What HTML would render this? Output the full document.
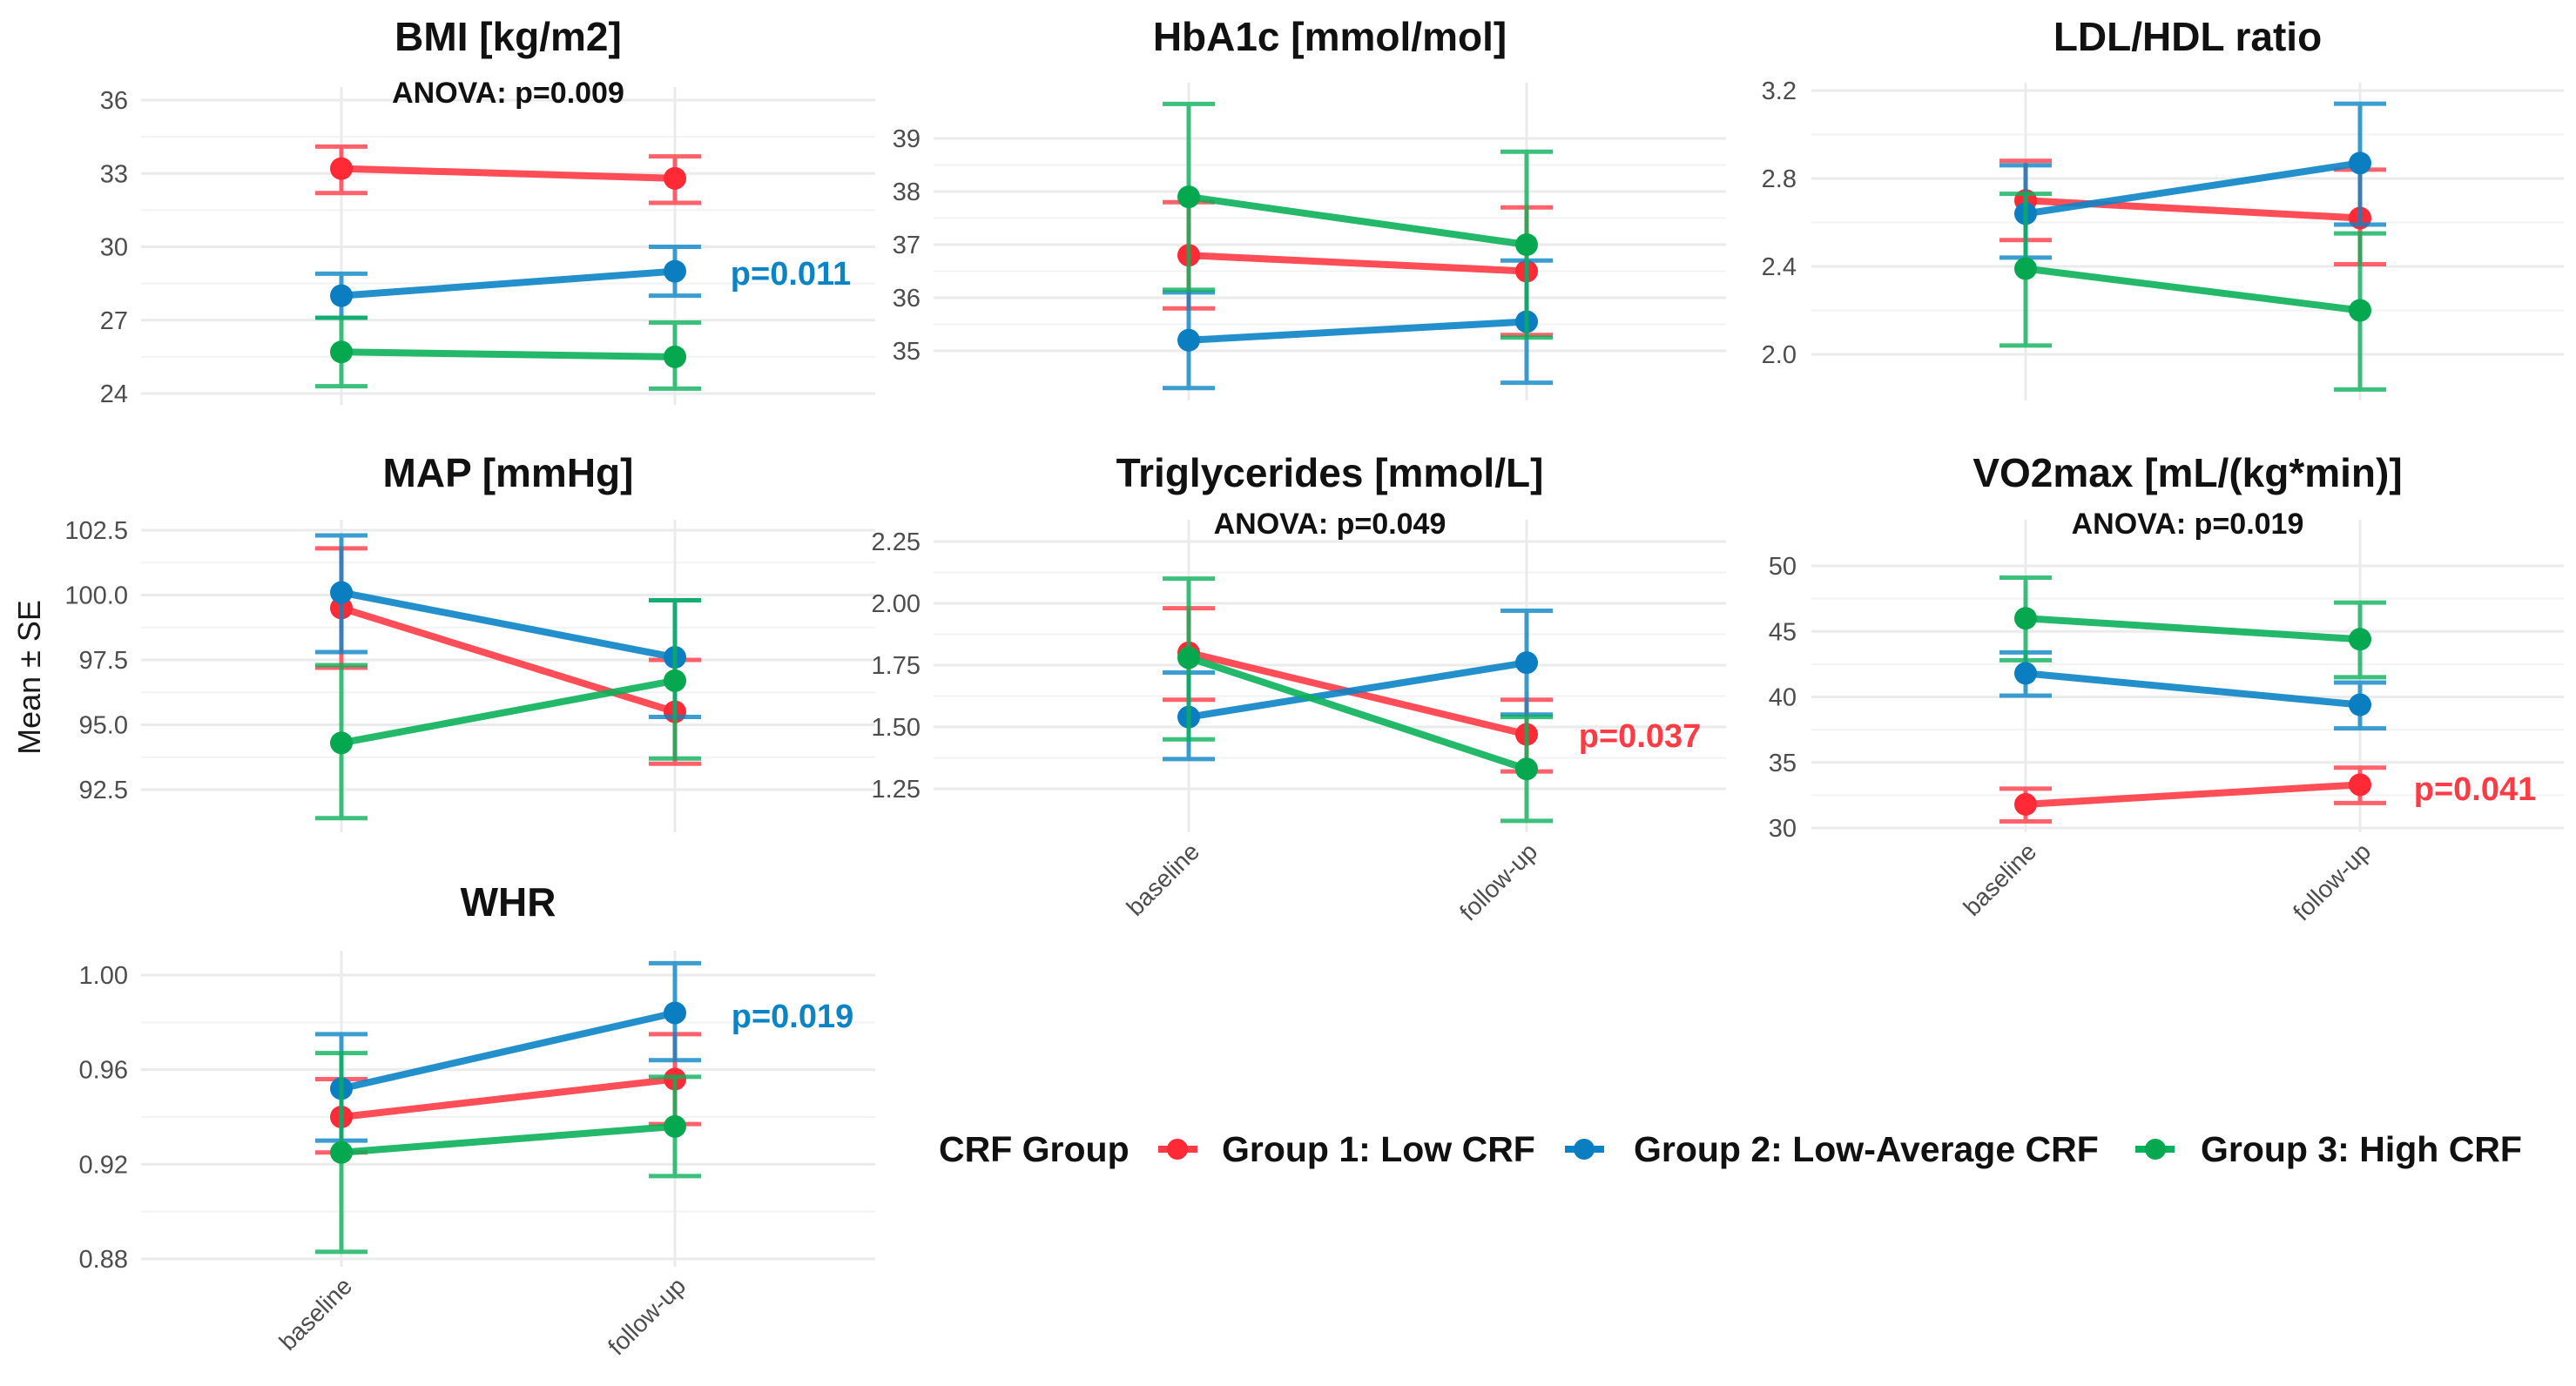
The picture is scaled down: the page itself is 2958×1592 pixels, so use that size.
<!DOCTYPE html>
<html><head><meta charset="utf-8"><style>
html,body{margin:0;padding:0;background:#fff;}
svg{display:block;font-family:"Liberation Sans",Arial,sans-serif;}
</style></head><body>
<svg id="chart" width="2958" height="1592" viewBox="0 0 2958 1592" xmlns="http://www.w3.org/2000/svg">
<rect width="2958" height="1592" fill="#fff"/>
<g id="grid"></g><g id="marks"></g><g id="labels"></g>
<text x="0" y="0" transform="translate(46,778) rotate(-90)" text-anchor="middle" font-size="36" fill="#1a1a1a">Mean ± SE</text>
<g font-weight="bold" font-size="41" fill="#111">
<text x="1078" y="1334">CRF Group</text>
<g><line x1="1330" y1="1320" x2="1375" y2="1320" stroke="#ff3b45" stroke-width="8"/><circle cx="1352" cy="1320" r="12" fill="#ff2a35"/><text x="1403" y="1334">Group 1: Low CRF</text></g>
<g><line x1="1797" y1="1320" x2="1842" y2="1320" stroke="#0b84c6" stroke-width="8"/><circle cx="1819" cy="1320" r="12" fill="#0a7ec0"/><text x="1876" y="1334">Group 2: Low-Average CRF</text></g>
<g><line x1="2452" y1="1320" x2="2497" y2="1320" stroke="#0bb05a" stroke-width="8"/><circle cx="2475" cy="1320" r="12" fill="#05a84f"/><text x="2527" y="1334">Group 3: High CRF</text></g>
</g>
</svg>
<script>
const categories = ["baseline","follow-up"];
// BMI
const BMI_G1=[33.2,32.8], BMI_G1_LO=[32.2,31.8], BMI_G1_HI=[34.1,33.7];
const BMI_G2=[28.0,29.0], BMI_G2_LO=[27.1,28.0], BMI_G2_HI=[28.9,30.0];
const BMI_G3=[25.7,25.5], BMI_G3_LO=[24.3,24.2], BMI_G3_HI=[27.1,26.9];
const BMI_TICKS=[24,27,30,33,36];
// HbA1c
const HBA_G1=[36.8,36.5], HBA_G1_LO=[35.8,35.3], HBA_G1_HI=[37.8,37.7];
const HBA_G2=[35.2,35.55], HBA_G2_LO=[34.3,34.4], HBA_G2_HI=[36.1,36.7];
const HBA_G3=[37.9,37.0], HBA_G3_LO=[36.15,35.25], HBA_G3_HI=[39.65,38.75];
const HBA_TICKS=[35,36,37,38,39];
// LDL/HDL
const LDL_G1=[2.70,2.62], LDL_G1_LO=[2.52,2.41], LDL_G1_HI=[2.88,2.84];
const LDL_G2=[2.64,2.87], LDL_G2_LO=[2.44,2.59], LDL_G2_HI=[2.86,3.14];
const LDL_G3=[2.39,2.20], LDL_G3_LO=[2.04,1.84], LDL_G3_HI=[2.73,2.55];
const LDL_TICKS=[2.0,2.4,2.8,3.2];
// MAP
const MAP_G1=[99.5,95.5], MAP_G1_LO=[97.2,93.5], MAP_G1_HI=[101.8,97.5];
const MAP_G2=[100.1,97.6], MAP_G2_LO=[97.8,95.3], MAP_G2_HI=[102.3,99.8];
const MAP_G3=[94.3,96.7], MAP_G3_LO=[91.4,93.7], MAP_G3_HI=[97.3,99.8];
const MAP_TICKS=[92.5,95.0,97.5,100.0,102.5];
// Triglycerides
const TRI_G1=[1.80,1.47], TRI_G1_LO=[1.61,1.32], TRI_G1_HI=[1.98,1.61];
const TRI_G2=[1.54,1.76], TRI_G2_LO=[1.37,1.55], TRI_G2_HI=[1.72,1.97];
const TRI_G3=[1.78,1.33], TRI_G3_LO=[1.45,1.12], TRI_G3_HI=[2.10,1.54];
const TRI_TICKS=[1.25,1.50,1.75,2.00,2.25];
// VO2max
const VO2_G1=[31.8,33.3], VO2_G1_LO=[30.5,31.9], VO2_G1_HI=[33.0,34.6];
const VO2_G2=[41.8,39.4], VO2_G2_LO=[40.1,37.6], VO2_G2_HI=[43.4,41.1];
const VO2_G3=[46.0,44.4], VO2_G3_LO=[42.8,41.5], VO2_G3_HI=[49.1,47.2];
const VO2_TICKS=[30,35,40,45,50];
// WHR
const WHR_G1=[0.940,0.956], WHR_G1_LO=[0.925,0.937], WHR_G1_HI=[0.956,0.975];
const WHR_G2=[0.952,0.984], WHR_G2_LO=[0.930,0.964], WHR_G2_HI=[0.975,1.005];
const WHR_G3=[0.925,0.936], WHR_G3_LO=[0.883,0.915], WHR_G3_HI=[0.967,0.957];
const WHR_TICKS=[0.88,0.92,0.96,1.00];

const COLORS=["#ff3b45","#0b84c6","#0bb05a"];
const DOTS=["#ff2a35","#0a7ec0","#05a84f"];
const NS="http://www.w3.org/2000/svg";
function mk(tag,attrs,parent){const e=document.createElementNS(NS,tag);for(const k in attrs)e.setAttribute(k,attrs[k]);parent.appendChild(e);return e;}

const panels=[
 {key:"bmi",title:"BMI [kg/m2]",x0:162,x1:1005,xb:392,xf:775,top:100,bot:465,tPx:[452,115],ticks:BMI_TICKS,dec:0,g:[[BMI_G1,BMI_G1_LO,BMI_G1_HI],[BMI_G2,BMI_G2_LO,BMI_G2_HI],[BMI_G3,BMI_G3_LO,BMI_G3_HI]],ty:42,anova:"ANOVA: p=0.009",ay:106,p:{t:"p=0.011",c:1,x:908,y:314},lx:147,xl:false},
 {key:"hba1c",title:"HbA1c [mmol/mol]",x0:1072,x1:1982,xb:1365,xf:1753,top:95,bot:460,tPx:[403,159],ticks:HBA_TICKS,dec:0,g:[[HBA_G1,HBA_G1_LO,HBA_G1_HI],[HBA_G2,HBA_G2_LO,HBA_G2_HI],[HBA_G3,HBA_G3_LO,HBA_G3_HI]],ty:42,lx:1057,xl:false},
 {key:"ldl-hdl",title:"LDL/HDL ratio",x0:2080,x1:2944,xb:2326,xf:2710,top:95,bot:460,tPx:[407,104],ticks:LDL_TICKS,dec:1,g:[[LDL_G1,LDL_G1_LO,LDL_G1_HI],[LDL_G2,LDL_G2_LO,LDL_G2_HI],[LDL_G3,LDL_G3_LO,LDL_G3_HI]],ty:42,lx:2063,xl:false},
 {key:"map",title:"MAP [mmHg]",x0:162,x1:1005,xb:392,xf:775,top:597,bot:956,tPx:[907,609],ticks:MAP_TICKS,dec:1,g:[[MAP_G1,MAP_G1_LO,MAP_G1_HI],[MAP_G2,MAP_G2_LO,MAP_G2_HI],[MAP_G3,MAP_G3_LO,MAP_G3_HI]],ty:543,lx:147,xl:false},
 {key:"triglycerides",title:"Triglycerides [mmol/L]",x0:1072,x1:1982,xb:1365,xf:1753,top:597,bot:956,tPx:[906,622],ticks:TRI_TICKS,dec:2,g:[[TRI_G1,TRI_G1_LO,TRI_G1_HI],[TRI_G2,TRI_G2_LO,TRI_G2_HI],[TRI_G3,TRI_G3_LO,TRI_G3_HI]],ty:543,anova:"ANOVA: p=0.049",ay:601,p:{t:"p=0.037",c:0,x:1883,y:845},lx:1057,xl:true},
 {key:"vo2max",title:"VO2max [mL/(kg*min)]",x0:2080,x1:2944,xb:2326,xf:2710,top:597,bot:956,tPx:[951,650],ticks:VO2_TICKS,dec:0,g:[[VO2_G1,VO2_G1_LO,VO2_G1_HI],[VO2_G2,VO2_G2_LO,VO2_G2_HI],[VO2_G3,VO2_G3_LO,VO2_G3_HI]],ty:543,anova:"ANOVA: p=0.019",ay:601,p:{t:"p=0.041",c:0,x:2842,y:906},lx:2063,xl:true},
 {key:"whr",title:"WHR",x0:162,x1:1005,xb:392,xf:775,top:1092,bot:1455,tPx:[1446,1120],ticks:WHR_TICKS,dec:2,g:[[WHR_G1,WHR_G1_LO,WHR_G1_HI],[WHR_G2,WHR_G2_LO,WHR_G2_HI],[WHR_G3,WHR_G3_LO,WHR_G3_HI]],ty:1036,p:{t:"p=0.019",c:1,x:910,y:1167},lx:147,xl:true}
];

const grid=document.getElementById("grid"),marks=document.getElementById("marks"),labels=document.getElementById("labels");
panels.forEach(P=>{
  const t0=P.ticks[0],t1=P.ticks[P.ticks.length-1];
  const y=v=>P.tPx[0]+(v-t0)/(t1-t0)*(P.tPx[1]-P.tPx[0]);
  const xs=[P.xb,P.xf];
  const x=i=>xs[i];
  const gp=mk("g",{},grid);
  
  
  for(let i=0;i<P.ticks.length-1;i++){
    const m=(P.ticks[i]+P.ticks[i+1])/2;
    mk("line",{x1:P.x0,x2:P.x1,y1:y(m),y2:y(m),stroke:"#f3f3f3","stroke-width":2},gp);
  }
  P.ticks.forEach(v=>{
    mk("line",{x1:P.x0,x2:P.x1,y1:y(v),y2:y(v),stroke:"#ebebeb","stroke-width":3},gp);
    const tl=mk("text",{x:P.lx,y:y(v)+10,"text-anchor":"end","font-size":29,fill:"#4d4d4d"},labels);
    
    
    tl.textContent=v.toFixed(P.dec);
  });
  categories.forEach((c,i)=>{
    mk("line",{x1:x(i),x2:x(i),y1:P.top,y2:P.bot,stroke:"#ebebeb","stroke-width":3},gp);
    if(P.xl){
      const xt=mk("text",{x:0,y:0,"text-anchor":"end","font-size":28,fill:"#4d4d4d",transform:`translate(${x(i)+14},${P.bot+24}) rotate(-45)`},labels);
      
      
      xt.textContent=c;
    }
  });
  const tt=mk("text",{x:(P.x0+P.x1)/2,y:P.ty+16,"text-anchor":"middle","font-size":46,"font-weight":"bold",fill:"#111"},labels);
  
  
  tt.textContent=P.title;
  if(P.anova){
    const a=mk("text",{x:(P.x0+P.x1)/2,y:P.ay+12,"text-anchor":"middle","font-size":34,"font-weight":"bold",fill:"#111"},labels);
    
    
    a.textContent=P.anova;
  }
  if(P.p){
    const pl=mk("text",{x:P.p.x,y:P.p.y+13,"text-anchor":"middle","font-size":38,"font-weight":"bold",fill:COLORS[P.p.c]},labels);
    
    
    pl.textContent=P.p.t;
  }
  P.g.forEach((s,gi)=>{
    const [mean,lo,hi]=s;
    const sg=mk("g",{},marks);
    
    
    mean.forEach((v,i)=>{
      const eb=mk("path",{d:`M${x(i)-30},${y(lo[i])}H${x(i)+30}M${x(i)},${y(lo[i])}V${y(hi[i])}M${x(i)-30},${y(hi[i])}H${x(i)+30}`,stroke:COLORS[gi],"stroke-width":5,fill:"none","stroke-opacity":0.8},sg);
      
      
    });
    const ln=mk("line",{x1:x(0),y1:y(mean[0]),x2:x(1),y2:y(mean[1]),stroke:COLORS[gi],"stroke-width":8,"stroke-opacity":0.9},sg);
    
    
    mean.forEach((v,i)=>{
      const pt=mk("circle",{cx:x(i),cy:y(v),r:13,fill:DOTS[gi]},sg);
      
      
    });
  });
});
</script>
</body></html>
